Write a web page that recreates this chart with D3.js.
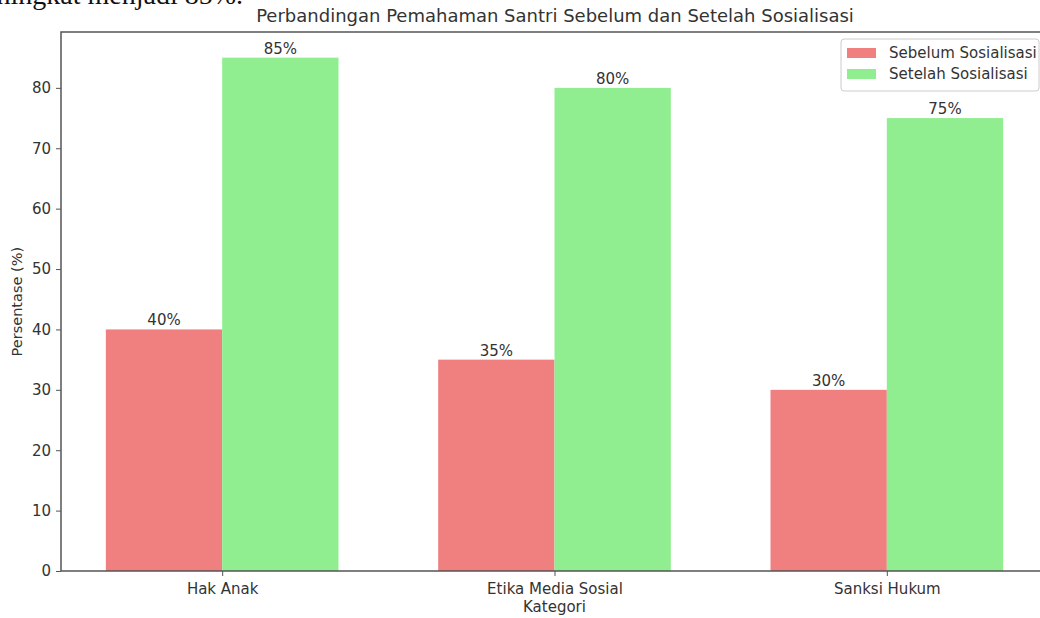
<!DOCTYPE html>
<meta charset="utf-8">
<html>
<head>
    <style>
        body { margin: 0; background: #fff; }
        svg { display: block; }
        text { font-family: "DejaVu Sans", sans-serif; fill: #333; }
        .axis path, .axis line { stroke: #555; }
        .axis text { font-size: 15px; fill: #333; }
    </style>
    <script src="https://cdn.jsdelivr.net/npm/d3@7"></script>
</head>
<body>
<div id="chart"></div>
<script>
    const categories = ["Hak Anak", "Etika Media Sosial", "Sanksi Hukum"];
    const seriesNames = ["Sebelum Sosialisasi", "Setelah Sosialisasi"];
    const sebelum = [40, 35, 30];
    const setelah = [85, 80, 75];
    const yTicks = [0, 10, 20, 30, 40, 50, 60, 70, 80];
    const colors = ["#f08080", "#90ee90"];

    const W = 1040, H = 618;
    // plot area runs a bit past the right edge (cropped screenshot)
    const margin = {top: 32, left: 61, bottom: 47},
        plotRight = 1048;

    const svg = d3.select("#chart").append("svg")
        .attr("width", W).attr("height", H);

    // cropped document text above the chart
    svg.append("text")
        .attr("x", 243).attr("y", 4)
        .attr("text-anchor", "end")
        .style("font-family", "'Liberation Serif', serif")
        .style("font-size", "28px")
        .style("fill", "#111")
        .text("meningkat menjadi 85%.");

    const barW = 0.35;
    const x = d3.scaleLinear()
        .domain([-0.485, 2.485])
        .range([margin.left, plotRight]);
    const y = d3.scaleLinear()
        .domain([0, 89.25])
        .range([H - margin.bottom, margin.top]);

    const series = [sebelum, setelah];
    series.forEach((vals, s) => {
        const off = s === 0 ? -barW : 0;
        svg.append("g").selectAll("rect")
            .data(vals)
            .enter().append("rect")
            .attr("x", (d, i) => x(i + off))
            .attr("width", x(barW) - x(0))
            .attr("y", d => y(d))
            .attr("height", d => y(0) - y(d))
            .style("fill", colors[s]);

        svg.append("g").selectAll("text")
            .data(vals)
            .enter().append("text")
            .attr("x", (d, i) => x(i + off + barW / 2))
            .attr("y", d => y(d) - 4)
            .attr("text-anchor", "middle")
            .style("font-size", "15px")
            .text(d => d + "%");
    });

    // frame
    svg.append("rect")
        .attr("x", margin.left).attr("y", margin.top)
        .attr("width", plotRight - margin.left)
        .attr("height", y(0) - margin.top)
        .style("fill", "none")
        .style("stroke", "#555")
        .style("stroke-width", 1.5);

    const yAxis = svg.append("g")
        .attr("class", "axis")
        .attr("transform", "translate(" + margin.left + ",0)")
        .call(d3.axisLeft(y).tickValues(yTicks).tickSize(5).tickPadding(5));
    yAxis.select(".domain").remove();

    const xAxis = svg.append("g")
        .attr("class", "axis")
        .attr("transform", "translate(0," + y(0) + ")")
        .call(d3.axisBottom(x).tickValues([0, 1, 2]).tickSize(5).tickPadding(5)
            .tickFormat((d, i) => categories[i]));
    xAxis.select(".domain").remove();
    xAxis.selectAll("text").attr("dy", "0.85em");

    svg.append("text")
        .attr("x", 555).attr("y", 22)
        .attr("text-anchor", "middle")
        .style("font-size", "18px")
        .text("Perbandingan Pemahaman Santri Sebelum dan Setelah Sosialisasi");

    svg.append("text")
        .attr("x", x(1)).attr("y", 612)
        .attr("text-anchor", "middle")
        .style("font-size", "15px")
        .text("Kategori");

    svg.append("text")
        .attr("transform", "translate(22," + y(44.6) + ") rotate(-90)")
        .attr("text-anchor", "middle")
        .style("font-size", "14.5px")
        .text("Persentase (%)");

    // legend
    const lg = svg.append("g").attr("transform", "translate(841,39)");
    lg.append("rect")
        .attr("width", 198).attr("height", 52)
        .attr("rx", 3)
        .style("fill", "#fff").style("fill-opacity", 0.8)
        .style("stroke", "#ccc");
    seriesNames.forEach((n, i) => {
        lg.append("rect")
            .attr("x", 6).attr("y", 9 + i * 21)
            .attr("width", 29).attr("height", 10)
            .style("fill", colors[i]);
        lg.append("text")
            .attr("x", 48).attr("y", 19 + i * 21)
            .style("font-size", "15px")
            .text(n);
    });
</script>
</body>
</html>
